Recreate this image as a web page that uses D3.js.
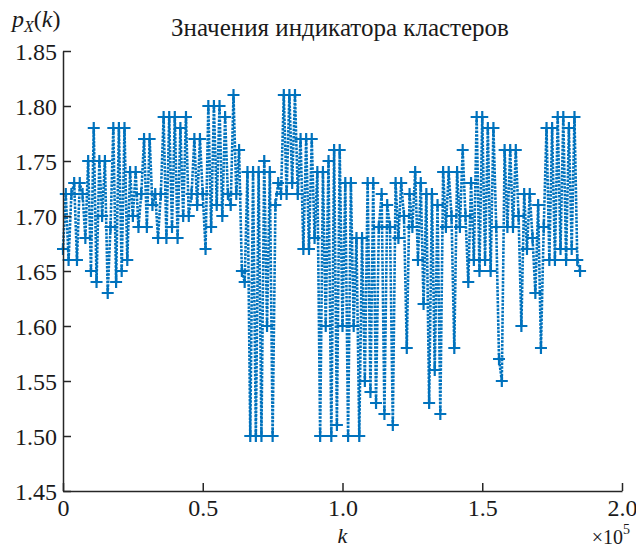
<!DOCTYPE html>
<html>
<head>
<meta charset="utf-8">
<script src="https://cdnjs.cloudflare.com/ajax/libs/d3/7.8.5/d3.min.js"></script>
<style>
  body { margin: 0; background: #fff; }
  svg text { font-family: 'Liberation Serif', 'DejaVu Serif', serif; fill: #1a1a1a; }
</style>
</head>
<body>
<div class="chart"></div>
<script>
// data: k step 1000, k = 0 .. 185000
const kStep = 1000;
const pValues = [
  1.67, 1.72, 1.66, 1.72, 1.73, 1.66, 1.73, 1.72, 1.68, 1.75,
  1.65, 1.78, 1.64, 1.75, 1.70, 1.75, 1.63, 1.69, 1.78, 1.64,
  1.78, 1.65, 1.78, 1.66, 1.74, 1.70, 1.74, 1.69, 1.72, 1.77,
  1.69, 1.77, 1.71, 1.72, 1.68, 1.72, 1.79, 1.68, 1.79, 1.69,
  1.79, 1.68, 1.78, 1.70, 1.79, 1.70, 1.72, 1.77, 1.71, 1.77,
  1.72, 1.67, 1.80, 1.69, 1.80, 1.71, 1.80, 1.70, 1.79, 1.72,
  1.71, 1.81, 1.72, 1.76, 1.65, 1.64, 1.74, 1.50, 1.74, 1.50,
  1.74, 1.50, 1.75, 1.60, 1.74, 1.50, 1.71, 1.73, 1.72, 1.81,
  1.72, 1.81, 1.73, 1.81, 1.72, 1.77, 1.67, 1.77, 1.67, 1.77,
  1.68, 1.74, 1.50, 1.74, 1.60, 1.75, 1.50, 1.76, 1.51, 1.76,
  1.60, 1.73, 1.50, 1.73, 1.60, 1.68, 1.50, 1.68, 1.55, 1.73,
  1.54, 1.73, 1.53, 1.69, 1.72, 1.52, 1.71, 1.69, 1.51, 1.73,
  1.68, 1.73, 1.70, 1.58, 1.72, 1.69, 1.74, 1.66, 1.73, 1.62,
  1.72, 1.53, 1.72, 1.56, 1.71, 1.52, 1.74, 1.69, 1.74, 1.70,
  1.58, 1.74, 1.69, 1.76, 1.70, 1.64, 1.73, 1.66, 1.79, 1.65,
  1.79, 1.66, 1.78, 1.65, 1.78, 1.69, 1.57, 1.55, 1.76, 1.69,
  1.76, 1.69, 1.76, 1.70, 1.60, 1.72, 1.67, 1.72, 1.68, 1.63,
  1.71, 1.58, 1.69, 1.78, 1.66, 1.78, 1.66, 1.79, 1.67, 1.79,
  1.66, 1.78, 1.67, 1.79, 1.66, 1.65
];
const xTicks = [0, 0.5e5, 1.0e5, 1.5e5, 2.0e5];
const xTickLabels = ["0", "0.5", "1.0", "1.5", "2.0"];
const yTicks = [1.45, 1.50, 1.55, 1.60, 1.65, 1.70, 1.75, 1.80, 1.85];

const data = pValues.map((v, i) => ({ k: i * kStep, p: v }));

const margin = { top: 51, right: 14, bottom: 57, left: 63 };
const width = 636 - margin.left - margin.right,
    height = 548 - margin.top - margin.bottom;

const svg = d3.select(".chart")
    .append("svg")
    .attr("width", 636)
    .attr("height", 548)
    .append("g")
    .attr("transform", `translate(${margin.left}, ${margin.top})`);

const xScale = d3.scaleLinear().domain([0, 2.0e5]).range([0, width]);
const yScale = d3.scaleLinear().domain([1.45, 1.85]).range([height, 0]);

const blue = "#0072BD";

// line, dotted
const line = d3.line().x(d => xScale(d.k)).y(d => yScale(d.p));
svg.append("path")
    .datum(data)
    .attr("fill", "none")
    .attr("stroke", blue)
    .attr("stroke-width", 2.6)
    .attr("stroke-dasharray", "2.5,1.2")
    .attr("d", line);

// plus markers
const ms = 6;
svg.selectAll(".mk")
    .data(data)
    .enter()
    .append("path")
    .attr("class", "mk")
    .attr("fill", "none")
    .attr("stroke", blue)
    .attr("stroke-width", 2.2)
    .attr("d", d => {
        const x = xScale(d.k), y = yScale(d.p);
        return `M${x - ms},${y}H${x + ms}M${x},${y - ms}V${y + ms}`;
    });

// axes, ticks pointing inward
const axisColor = "#262626";
const xAxis = d3.axisBottom(xScale)
    .tickValues(xTicks)
    .tickSizeInner(-8)
    .tickSizeOuter(0)
    .tickFormat((d, i) => xTickLabels[i]);
const gx = svg.append("g")
    .attr("class", "x-axis")
    .attr("transform", `translate(0, ${height})`)
    .call(xAxis);

const yAxis = d3.axisLeft(yScale)
    .tickValues(yTicks)
    .tickSizeInner(-8)
    .tickSizeOuter(0)
    .tickFormat(d3.format(".2f"));
const gy = svg.append("g")
    .attr("class", "y-axis")
    .call(yAxis);

[gx, gy].forEach(g => {
    g.attr("font-family", null);
    g.select(".domain").attr("stroke", axisColor).attr("stroke-width", 1.5);
    g.selectAll(".tick line").attr("stroke", axisColor).attr("stroke-width", 1.5);
    g.selectAll(".tick text")
        .attr("font-size", 24)
        .attr("fill", "#1a1a1a");
});
gx.selectAll(".tick text").attr("y", 8).attr("dy", "0.72em");
gy.selectAll(".tick text").attr("x", -6).attr("dy", "0.34em");

// titles
svg.append("text")
    .attr("x", 277)
    .attr("y", -15)
    .attr("text-anchor", "middle")
    .attr("font-size", 25)
    .text("Значения индикатора кластеров");

const yLab = svg.append("text")
    .attr("x", -51)
    .attr("y", -24)
    .attr("font-size", 24)
    .attr("font-style", "italic");
yLab.append("tspan").text("p");
yLab.append("tspan").attr("font-size", 16).attr("dy", 5).text("X");
yLab.append("tspan").attr("dy", -5).attr("font-style", "normal").text("(");
yLab.append("tspan").text("k");
yLab.append("tspan").attr("font-style", "normal").text(")");

svg.append("text")
    .attr("x", xScale(1.0e5))
    .attr("y", height + 52)
    .attr("text-anchor", "middle")
    .attr("font-size", 22)
    .attr("font-style", "italic")
    .text("k");

const mult = svg.append("text")
    .attr("x", width + 8)
    .attr("y", height + 53)
    .attr("text-anchor", "end")
    .attr("font-size", 20);
mult.append("tspan").text("×10");
mult.append("tspan").attr("font-size", 14).attr("dy", -10).text("5");
</script>
</body>
</html>
